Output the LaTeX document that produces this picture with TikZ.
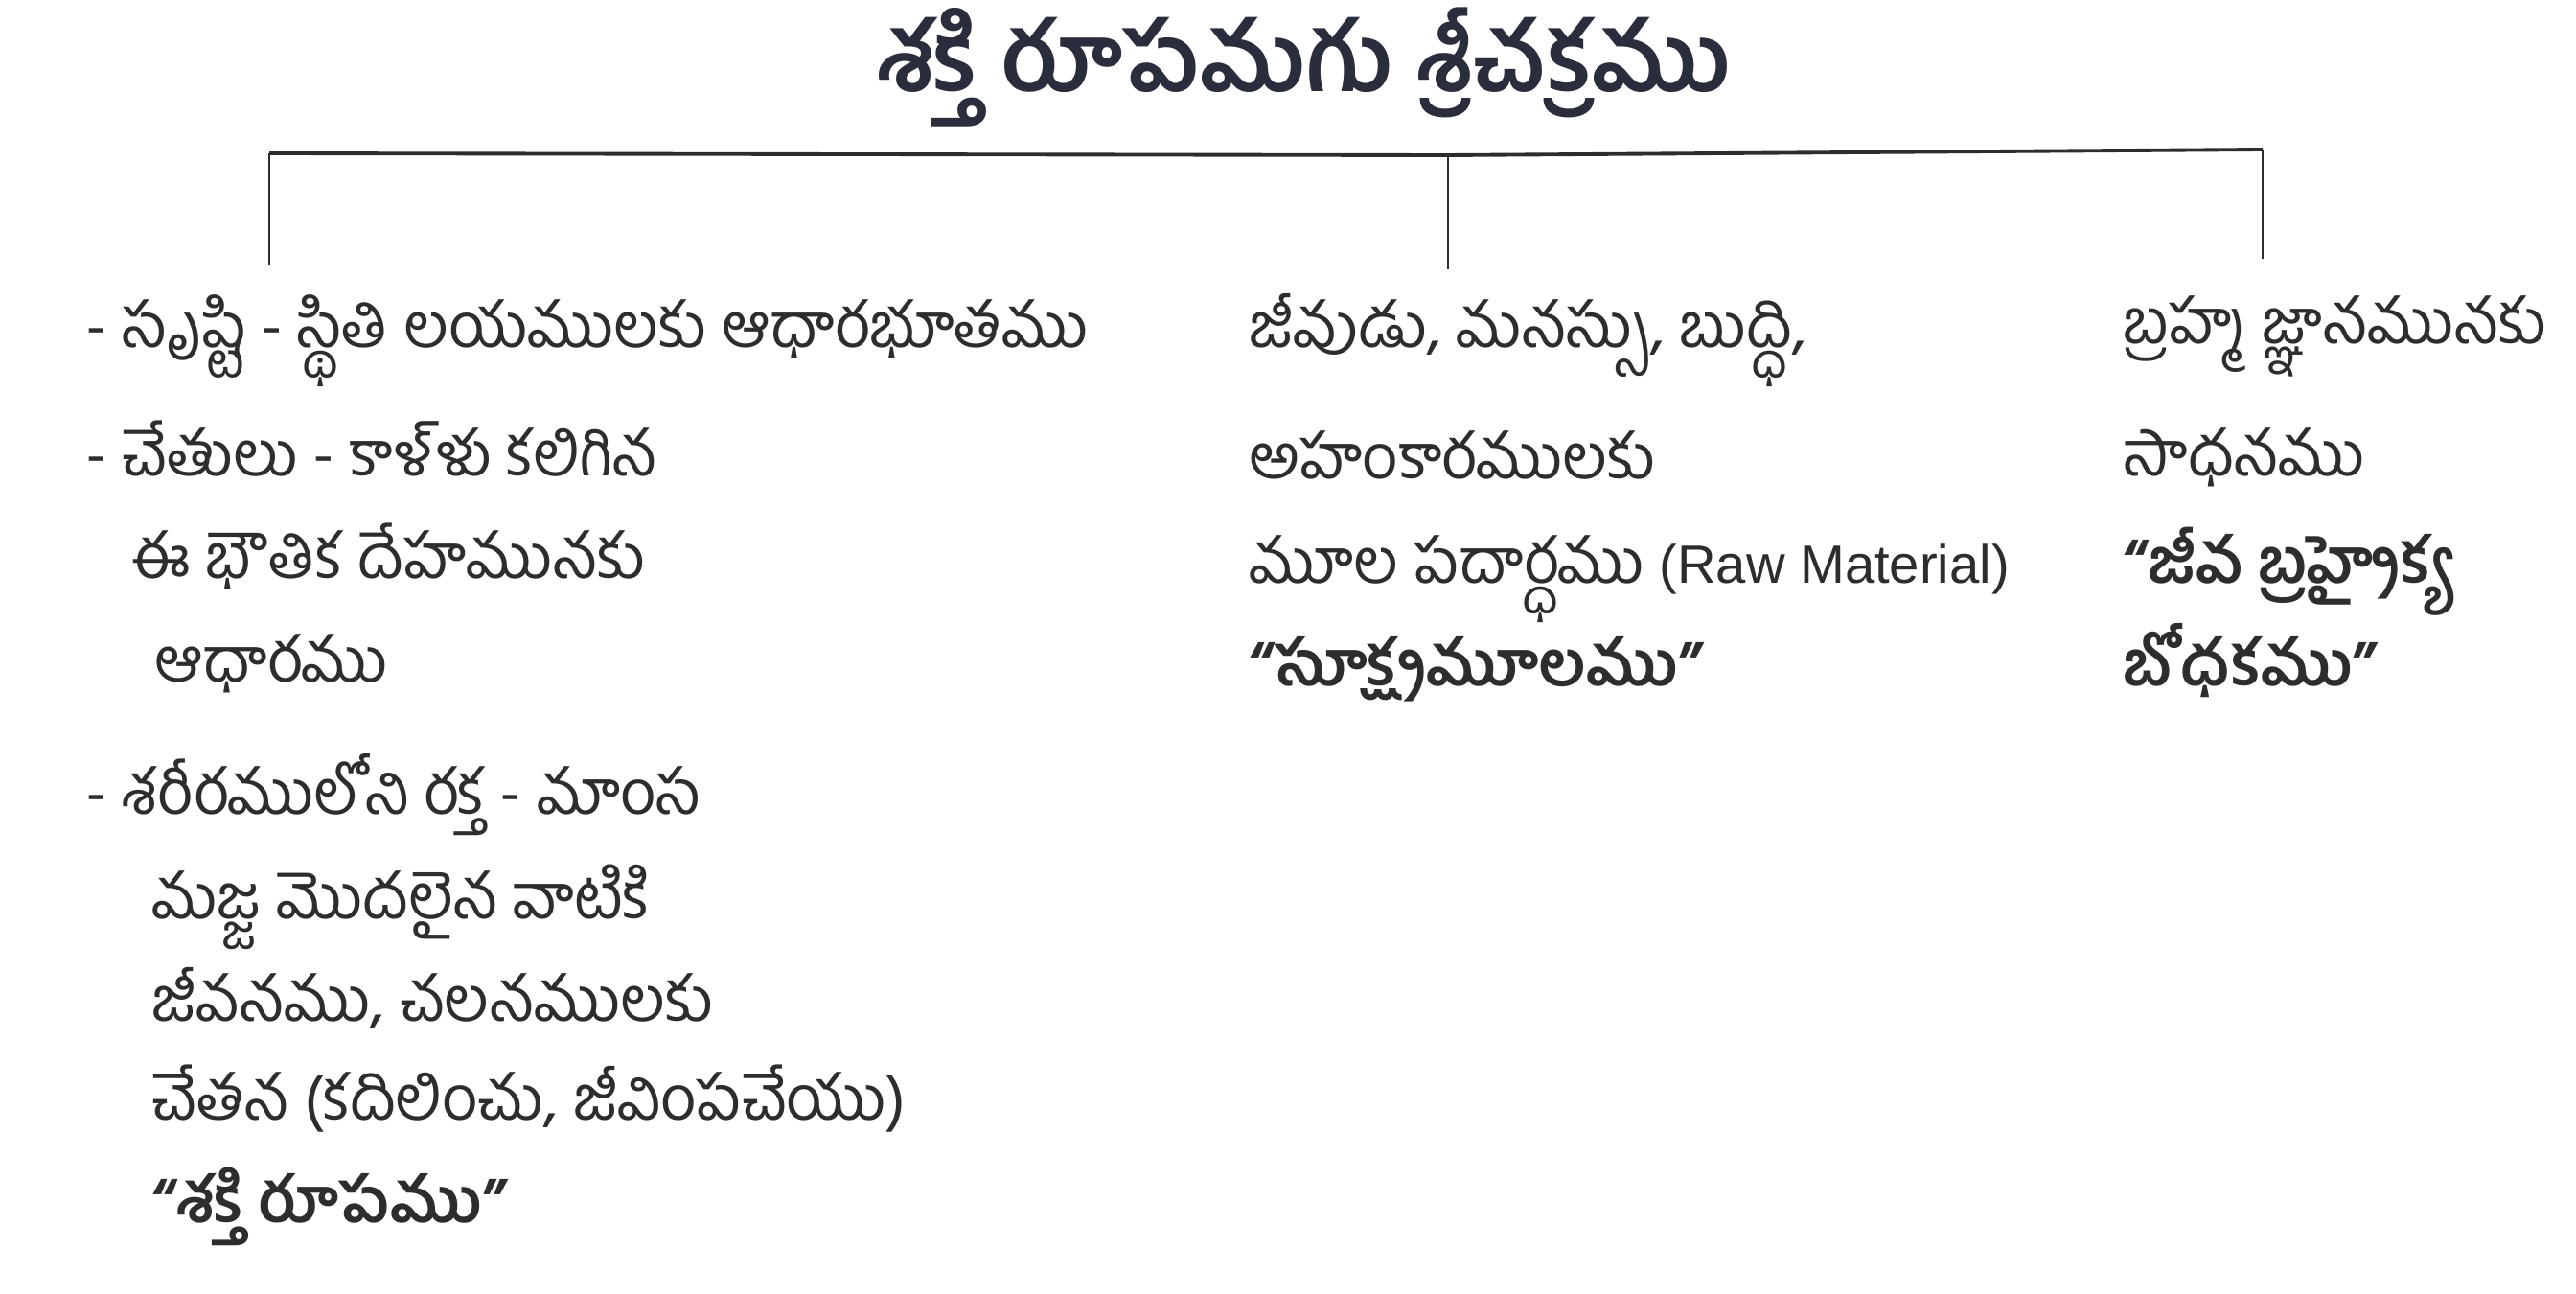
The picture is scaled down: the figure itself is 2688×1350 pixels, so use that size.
\documentclass[tikz,border=0pt]{standalone}
\usepackage{fontspec}
\setmainfont[Script=Telugu]{Hind Guntur}
\newfontfamily\latinfont{Liberation Sans}
\usepackage{tikz}
\definecolor{ink}{RGB}{45,45,48}
\definecolor{titleink}{RGB}{42,46,60}
\tikzset{
  txt/.style={anchor=base west, inner sep=0.75pt, text=ink, font=\fontsize{18.5}{22}\selectfont},
  boldtxt/.style={txt, font=\fontsize{18.5}{22}\selectfont\bfseries},
  bar/.style={draw=ink, line width=1.1pt},
  drop/.style={draw=ink, line width=0.6pt}
}
\begin{document}
\begin{tikzpicture}[x=0.1mm,y=0.1mm,yscale=-1]
\useasboundingbox (0,0) rectangle (2688,1350);

% Title
\node (title) at (1361,70) [inner sep=0.75pt, text=titleink, font=\fontsize{28}{32}\selectfont\bfseries] {శక్తి రూపమగు శ్రీచక్రము};

%Straight Lines
\coordinate (barL) at (281,160);
\coordinate (barM) at (1511,162);
\coordinate (barR) at (2361,156);
\coordinate (dropL) at (281,276);
\coordinate (dropM) at (1511,281);
\coordinate (dropR) at (2361,270);
\draw [bar] (barL) -- (barM) -- (barR) ;
\draw [drop] (barL) -- (dropL) ;
\draw [drop] (barM) -- (dropM) ;
\draw [drop] (barR) -- (dropR) ;

% Text Node
\node (l1) at (86,362) [txt] {- సృష్టి - స్థితి లయములకు ఆధారభూతము};
\node (l2) at (86,496) [txt] {- చేతులు - కాళ్ళు కలిగిన};
\node (l3) at (134,603) [txt] {ఈ భౌతిక దేహమునకు};
\node (l4) at (158,711) [txt] {ఆధారము};
\node (l5) at (86,849) [txt] {- శరీరములోని రక్త - మాంస};
\node (l6) at (155,958) [txt] {మజ్జ మొదలైన వాటికి};
\node (l7) at (155,1065) [txt] {జీవనము, చలనములకు};
\node (l8) at (155,1168) [txt] {చేతన (కదిలించు, జీవింపచేయు)};
\node (l9) at (155,1275) [boldtxt] {“శక్తి రూపము”};

% Text Node
\node (m1) at (1300,362) [txt] {జీవుడు, మనస్సు, బుద్ధి,};
\node (m2) at (1300,499) [txt] {అహంకారములకు};
\node (m3) at (1300,608) [txt] {మూల పదార్ధము {\latinfont\fontsize{16}{20}\selectfont(Raw Material)}};
\node (m4) at (1300,715) [boldtxt] {“సూక్ష్మమూలము”};

% Text Node
\node (r1) at (2212,358) [txt] {బ్రహ్మ జ్ఞానమునకు};
\node (r2) at (2212,496) [txt] {సాధనము};
\node (r3) at (2212,608) [boldtxt] {“జీవ బ్రహ్మైక్య};
\node (r4) at (2212,715) [boldtxt] {బోధకము”};

\end{tikzpicture}
\end{document}
